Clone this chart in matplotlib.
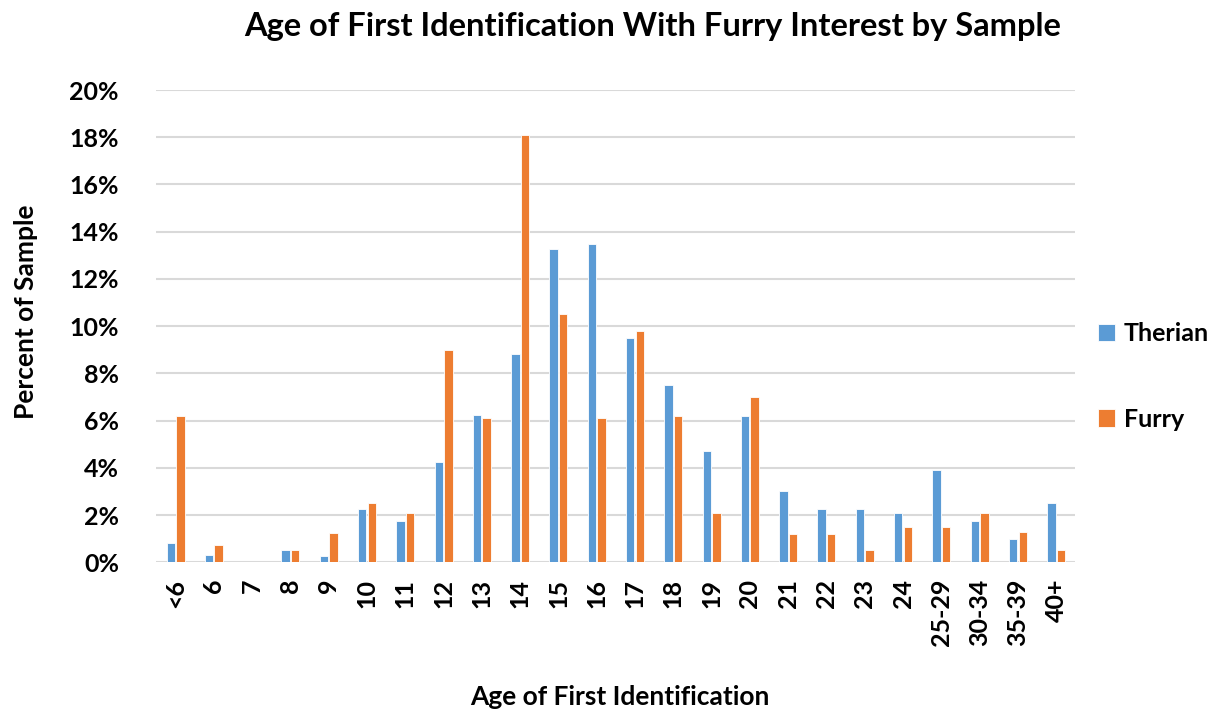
import matplotlib.pyplot as plt
import numpy as np

ages = ["<6", "6", "7", "8", "9", "10", "11", "12", "13", "14", "15", "16",
        "17", "18", "19", "20", "21", "22", "23", "24", "25-29", "30-34",
        "35-39", "40+"]
therian = [0.8, 0.3, 0.0, 0.5, 0.25, 2.25, 1.75, 4.25, 6.25, 8.8, 13.25, 13.5,
           9.5, 7.5, 4.7, 6.2, 3.0, 2.25, 2.25, 2.1, 3.9, 1.75, 1.0, 2.5]
furry = [6.2, 0.75, 0.0, 0.5, 1.25, 2.5, 2.1, 9.0, 6.1, 18.1, 10.5, 6.1,
         9.8, 6.2, 2.1, 7.0, 1.2, 1.2, 0.5, 1.5, 1.5, 2.1, 1.3, 0.5]

plt.rcParams['font.family'] = ['Lato', 'DejaVu Sans']
plt.rcParams['font.weight'] = 'bold'

fig = plt.figure(figsize=(12.22, 7.09), dpi=100)
ax = fig.add_axes([0.128, 0.207, 0.752, 0.666])

x = np.arange(len(ages))
w = 0.22
ax.bar(x - 0.125, therian, w, color='#5B9BD5', edgecolor='white', linewidth=0.6,
       label='Therian', zorder=3)
ax.bar(x + 0.125, furry, w, color='#ED7D31', edgecolor='white', linewidth=0.6,
       label='Furry', zorder=3)

ax.set_xlim(-0.5, len(ages) - 0.5)
ax.set_ylim(0, 20)
ax.set_yticks(np.arange(0, 21, 2))
ax.set_yticklabels([f"{v}%" for v in range(0, 21, 2)], fontsize=18, fontweight='bold')
ax.set_xticks(x)
ax.set_xticklabels(ages, rotation=90, fontsize=18, fontweight='bold', va='top')
ax.tick_params(axis='x', length=0, pad=12)
ax.tick_params(axis='y', length=0, pad=27)
ax.grid(axis='y', color='#D9D9D9', linewidth=1.5, zorder=0)
for s in ax.spines.values():
    s.set_visible(False)

fig.text(0.534, 0.963, 'Age of First Identification With Furry Interest by Sample',
         ha='center', va='center', fontsize=23.5, fontweight='bold')
fig.text(0.507, 0.017, 'Age of First Identification', ha='center', va='center',
         fontsize=19, fontweight='bold')
fig.text(0.021, 0.561, 'Percent of Sample', rotation=90, ha='center', va='center',
         fontsize=19, fontweight='bold')

fig.legend(loc='upper left', bbox_to_anchor=(0.88, 0.577), frameon=False,
           handlelength=0.7, handleheight=0.7, handletextpad=0.35,
           labelspacing=2.5, prop={'weight': 'bold', 'size': 18})

fig.savefig('out.png', dpi=100)
